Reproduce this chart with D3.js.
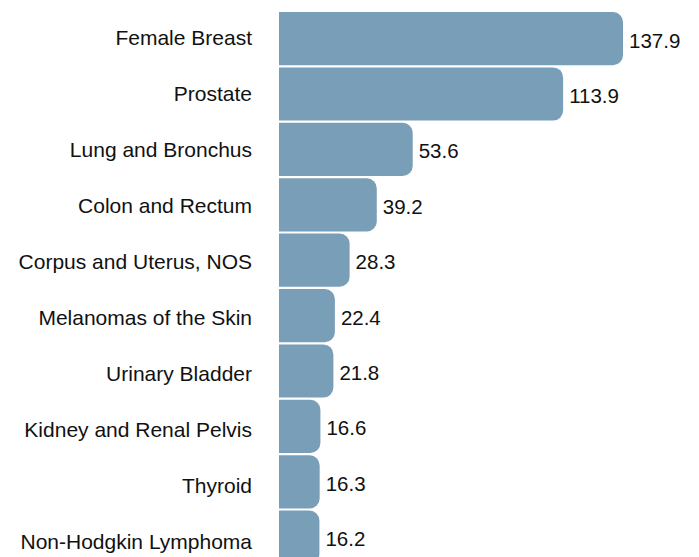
<!DOCTYPE html>
<html>
<head>
<meta charset="utf-8">
<script src="https://cdn.jsdelivr.net/npm/d3@7"></script>
<style>
  html, body { margin: 0; padding: 0; background: #fff; }
  svg { display: block; }
  text { font-family: "Liberation Sans", Arial, Helvetica, sans-serif; fill: #111; }
</style>
</head>
<body>
<svg id="chart" width="699" height="557"></svg>
<script>
const categories = [
  "Female Breast",
  "Prostate",
  "Lung and Bronchus",
  "Colon and Rectum",
  "Corpus and Uterus, NOS",
  "Melanomas of the Skin",
  "Urinary Bladder",
  "Kidney and Renal Pelvis",
  "Thyroid",
  "Non-Hodgkin Lymphoma"
];
const values = [137.9, 113.9, 53.6, 39.2, 28.3, 22.4, 21.8, 16.6, 16.3, 16.2];
const valueLabels = ["137.9", "113.9", "53.6", "39.2", "28.3", "22.4", "21.8", "16.6", "16.3", "16.2"];

const data = categories.map((c, i) => ({ cat: c, val: values[i], label: valueLabels[i] }));

const svg = d3.select("#chart");
const x0 = 279;
const radius = 10;
const color = "#799eb8";

const x = d3.scaleLinear().domain([0, d3.max(values)]).range([0, 344]);
const y = d3.scaleBand().domain(categories).range([10.9, 564.9]).paddingInner(0.04).paddingOuter(0.02);
const yLabel = d3.scaleBand().domain(categories).range([9.5, 569.5]).padding(0);

function barPath(d) {
  const top = y(d.cat), h = y.bandwidth(), w = x(d.val);
  const r = Math.min(radius, w, h / 2);
  const l = x0, rt = x0 + w, b = top + h;
  return `M${l},${top}H${rt - r}A${r},${r} 0 0 1 ${rt},${top + r}V${b - r}A${r},${r} 0 0 1 ${rt - r},${b}H${l}Z`;
}

svg.append("g").selectAll("path").data(data).join("path")
  .attr("d", barPath)
  .attr("fill", color);

svg.append("g").selectAll("text").data(data).join("text")
  .attr("x", 252)
  .attr("y", d => yLabel(d.cat) + yLabel.bandwidth() / 2 + 7.5)
  .attr("text-anchor", "end")
  .attr("font-size", 21)
  .text(d => d.cat);

svg.append("g").selectAll("text").data(data).join("text")
  .attr("x", d => x0 + x(d.val) + 6)
  .attr("y", d => y(d.cat) + y.bandwidth() / 2 + 1.5 + 7.4)
  .attr("text-anchor", "start")
  .attr("font-size", 20.5)
  .text(d => d.label);
</script>
</body>
</html>
